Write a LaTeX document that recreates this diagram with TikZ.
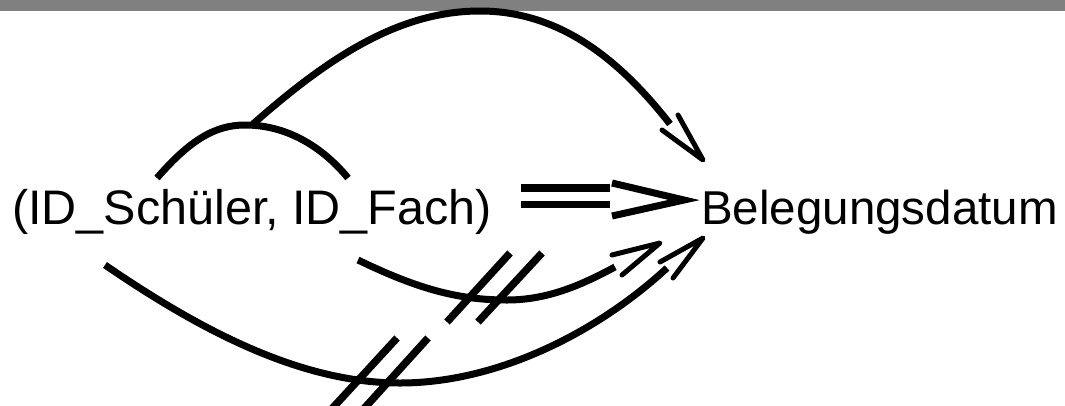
\documentclass[tikz,border=0pt]{standalone}
\usepackage{fontspec}
\setmainfont{Liberation Sans}
\begin{document}
\begin{tikzpicture}[x=1pt,y=-1pt,
  curve/.style={line width=7pt},
  head/.style={line width=5pt,line cap=round,line join=round},
  slash/.style={line width=7.5pt},
  lbl/.style={inner sep=0pt,anchor=base west}]
\useasboundingbox (0,0) rectangle (1065,405);
\clip (0,0) rectangle (1065,405);
\fill[gray] (0,0) rectangle (1065,11);
\node[lbl,font=\fontsize{48.5}{58}\selectfont] (key) at (12,224) {(ID\_Schüler, ID\_Fach)};
\node[lbl,font=\fontsize{47.5}{57}\selectfont] (dep) at (701,224) {Belegungsdatum};
% small arc over the key
\coordinate (kl) at (157,178);
\coordinate (kr) at (348,178);
\coordinate (kt) at (253,124);
\draw[curve] (kl) .. controls (190,140) and (215,125) .. (245,125) .. controls (290,125) and (325,150) .. (kr);
% top arc
\coordinate (te) at (670,124);
\coordinate (tt) at (703,160);
\draw[curve] (kt) .. controls (330,56) and (400,11) .. (480,11) .. controls (560,11) and (620,60) .. (te);
\draw[head] (678,115) -- (tt) -- (662,130);
% double arrow
\fill (521,184) rectangle (610,191.5);
\fill (521,200.5) rectangle (610,208);
\draw[line width=7pt,miter limit=20] (612,183) -- (684,200) -- (612,216);
% middle arc
\coordinate (ms) at (358,260);
\coordinate (me) at (615,267);
\coordinate (mt) at (660,243);
\draw[curve] (ms) .. controls (420,290) and (460,300) .. (507,300) .. controls (550,300) and (585,283) .. (me);
\draw[head] (612,255) -- (mt) -- (622,275);
\draw[slash] (510,253) -- (447,322);
\draw[slash] (542,253) -- (478,322);
% bottom arc
\coordinate (bs) at (105,265);
\coordinate (be) at (667,268);
\coordinate (bt) at (703,238);
\draw[curve] (bs) .. controls (200,330) and (300,383) .. (400,383) .. controls (500,383) and (600,330) .. (be);
\draw[head] (660,262) -- (bt) -- (673,278);
\draw[slash] (397,338) -- (328,413);
\draw[slash] (428,338) -- (360,413);
\end{tikzpicture}
\end{document}
